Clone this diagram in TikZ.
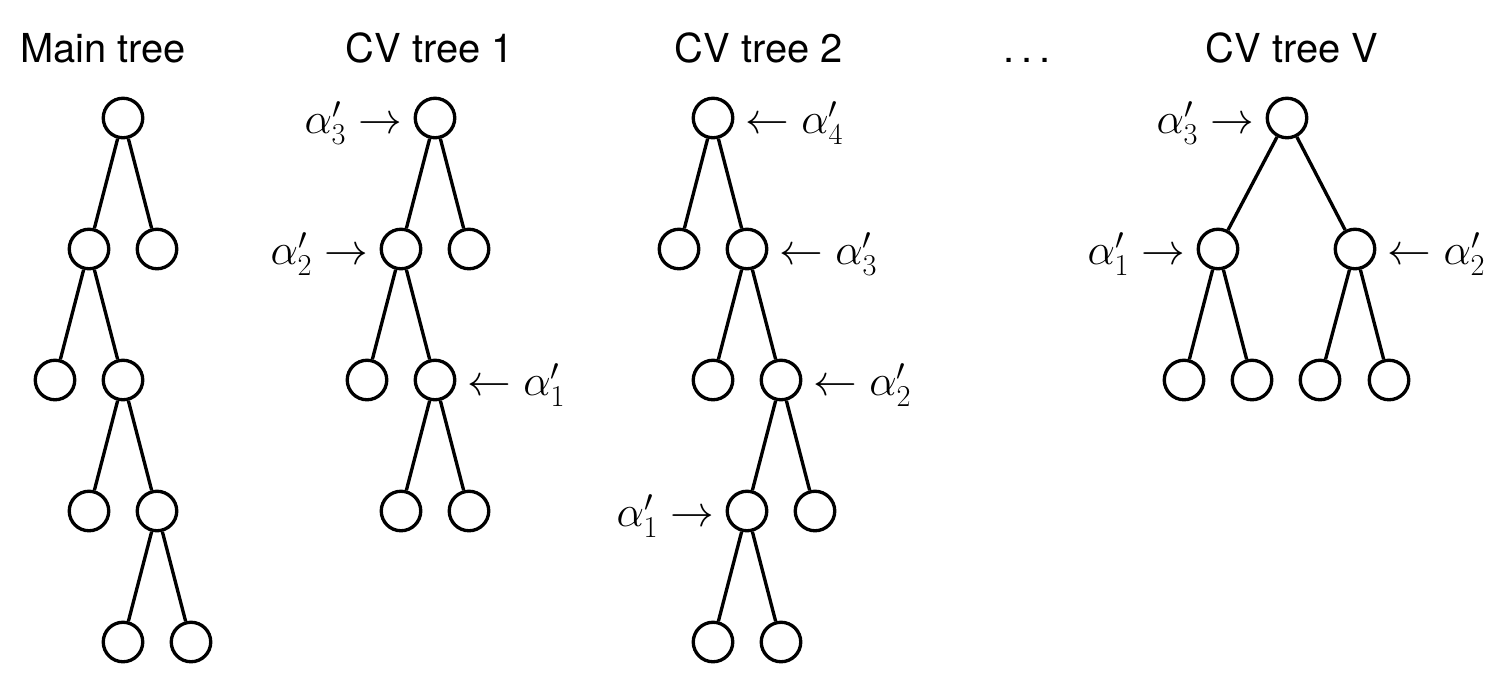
\documentclass[tikz,border=0pt]{standalone}
\usepackage{amsmath,amssymb}
\usepackage{fontspec}
\setsansfont{TeX Gyre Heros}
\usepackage{tikz}
\usetikzlibrary{positioning}

\tikzset{
  vertex/.style={circle, draw=black, line width=1.9pt, minimum size=0.79cm, inner sep=0pt},
  branch/.style={black, line width=1.9pt},
  treetitle/.style={font=\sffamily\fontsize{22.7}{27}\selectfont, anchor=base},
  alphalab/.style={font=\fontsize{23.6}{28}\selectfont, yshift=-0.1cm},
}

\begin{document}
\begin{tikzpicture}[x=0.02cm, y=-0.02cm]
    \useasboundingbox (0,0) rectangle (1506,694);
    % titles
    \node[treetitle] (tmain) at (103,62) {Main tree};
    \node[treetitle] (tcv1) at (430,62) {CV tree 1};
    \node[treetitle] (tcv2) at (759,62) {CV tree 2};
    \node[treetitle] (tdots) at (1027,62) {.\kern.17em.\kern.17em.};
    \node[treetitle] (tcvv) at (1292,62) {CV tree V};

    % main tree
    \node[vertex] (m0) at (123,118) {};
    \node[vertex] (m1) at (89,249) {};
    \node[vertex] (m2) at (157,249) {};
    \node[vertex] (m3) at (55,380) {};
    \node[vertex] (m4) at (123,380) {};
    \node[vertex] (m5) at (89,511) {};
    \node[vertex] (m6) at (157,511) {};
    \node[vertex] (m7) at (123,642) {};
    \node[vertex] (m8) at (191,642) {};
    \foreach \p/\c in {m0/m1, m0/m2, m1/m3, m1/m4, m4/m5, m4/m6, m6/m7, m6/m8}
        \draw[branch] (\p) -- (\c);

    % CV tree 1
    \node[vertex] (a0) at (435,118) {};
    \node[vertex] (a1) at (401,249) {};
    \node[vertex] (a2) at (469,249) {};
    \node[vertex] (a3) at (367,380) {};
    \node[vertex] (a4) at (435,380) {};
    \node[vertex] (a5) at (401,511) {};
    \node[vertex] (a6) at (469,511) {};
    \foreach \p/\c in {a0/a1, a0/a2, a1/a3, a1/a4, a4/a5, a4/a6}
        \draw[branch] (\p) -- (\c);
    \node[alphalab, left=0.1cm of a0] (la0) {$\alpha'_3 \rightarrow$};
    \node[alphalab, left=0.1cm of a1] (la1) {$\alpha'_2 \rightarrow$};
    \node[alphalab, right=0.1cm of a4] (la4) {$\leftarrow \alpha'_1$};

    % CV tree 2
    \node[vertex] (b0) at (713,118) {};
    \node[vertex] (b1) at (679,249) {};
    \node[vertex] (b2) at (747,249) {};
    \node[vertex] (b3) at (713,380) {};
    \node[vertex] (b4) at (781,380) {};
    \node[vertex] (b5) at (747,511) {};
    \node[vertex] (b6) at (815,511) {};
    \node[vertex] (b7) at (713,642) {};
    \node[vertex] (b8) at (781,642) {};
    \foreach \p/\c in {b0/b1, b0/b2, b2/b3, b2/b4, b4/b5, b4/b6, b5/b7, b5/b8}
        \draw[branch] (\p) -- (\c);
    \node[alphalab, right=0.1cm of b0] (lb0) {$\leftarrow \alpha'_4$};
    \node[alphalab, right=0.1cm of b2] (lb2) {$\leftarrow \alpha'_3$};
    \node[alphalab, right=0.1cm of b4] (lb4) {$\leftarrow \alpha'_2$};
    \node[alphalab, left=0.1cm of b5] (lb5) {$\alpha'_1 \rightarrow$};

    % CV tree V
    \node[vertex] (v0) at (1287,118) {};
    \node[vertex] (v1) at (1218,249) {};
    \node[vertex] (v2) at (1355,249) {};
    \node[vertex] (v3) at (1184,380) {};
    \node[vertex] (v4) at (1252,380) {};
    \node[vertex] (v5) at (1320,380) {};
    \node[vertex] (v6) at (1389,380) {};
    \foreach \p/\c in {v0/v1, v0/v2, v1/v3, v1/v4, v2/v5, v2/v6}
        \draw[branch] (\p) -- (\c);
    \node[alphalab, left=0.1cm of v0] (lv0) {$\alpha'_3 \rightarrow$};
    \node[alphalab, left=0.1cm of v1] (lv1) {$\alpha'_1 \rightarrow$};
    \node[alphalab, right=0.1cm of v2] (lv2) {$\leftarrow \alpha'_2$};
\end{tikzpicture}
\end{document}
